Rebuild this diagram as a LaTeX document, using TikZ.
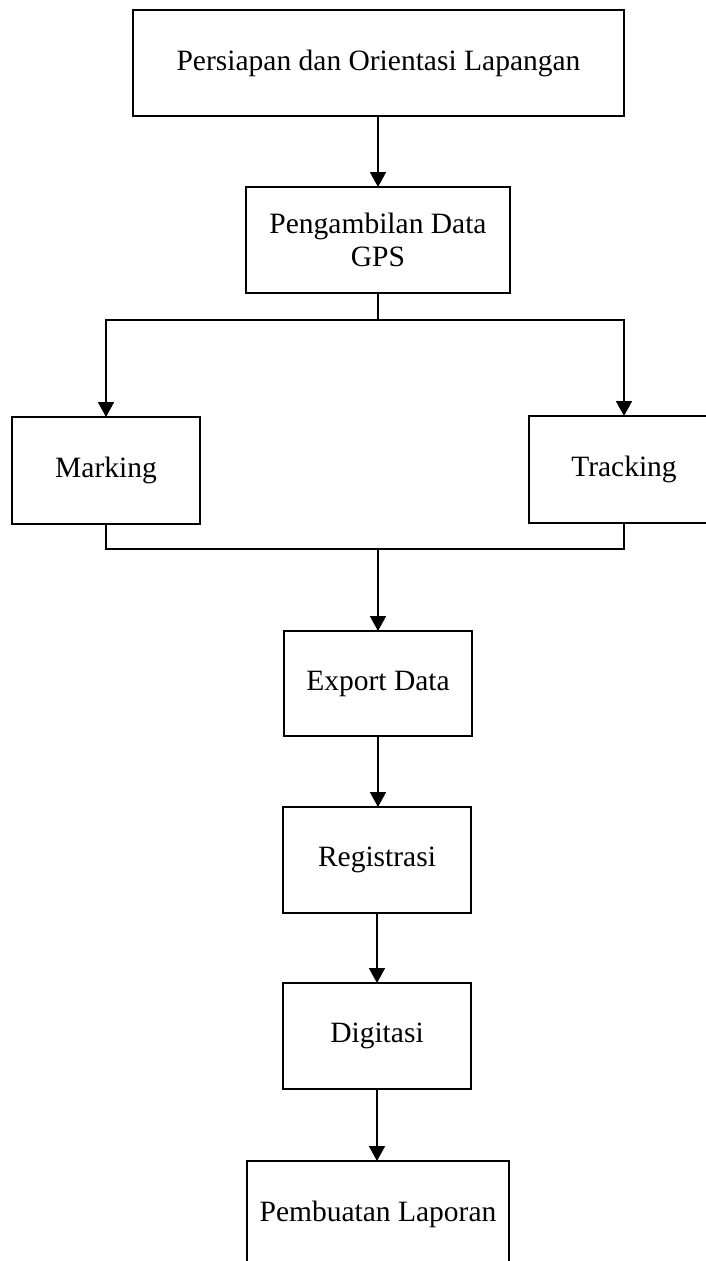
\documentclass[tikz,border=0pt]{standalone}
\usepackage{fontspec}
\setmainfont{Liberation Serif}
\usetikzlibrary{arrows.meta}
\begin{document}
\begin{tikzpicture}[x=1pt,y=-1pt,
  line width=1.8pt,
  box/.style={draw, rectangle, inner sep=0pt, outer sep=0pt,
    minimum height=106pt, align=center,
    font=\fontsize{29.5}{33}\selectfont},
  flow/.style={-{Triangle[length=15pt,width=16pt]}}]
\useasboundingbox (0,0) rectangle (706,1261);
\clip (0,0) rectangle (706,1261);

% process boxes
\node[box, minimum width=491pt] (prep) at (378.5,63) {Persiapan dan Orientasi Lapangan};
\node[box, minimum width=264pt] (gps) at (378,240) {Pengambilan Data\\GPS};
\node[box, minimum width=188pt, minimum height=107pt] (mark) at (106,470.5) {Marking};
\node[box, minimum width=190pt, minimum height=107pt] (track) at (624,469.5) {Tracking};
\node[box, minimum width=188pt, minimum height=105pt] (export) at (378,683.5) {Export Data};
\node[box, minimum width=188pt] (reg) at (377,860) {Registrasi};
\node[box, minimum width=188pt] (dig) at (377,1036) {Digitasi};
\node[box, minimum width=262pt] (report) at (378,1214) {Pembuatan Laporan};

% branching and merging points
\coordinate (split) at (378,320);
\coordinate (join) at (378,549);

% connectors
\draw[flow] (prep.south -| gps.north) -- (gps.north);
\draw (gps.south) -- (split);
\draw[flow] (split) -| (mark.north);
\draw[flow] (split) -| (track.north);
\draw (mark.south) |- (join);
\draw (track.south) |- (join);
\draw[flow] (join) -- (export.north);
\draw[flow] (export.south -| 378,0) -- (reg.north -| 378,0);
\draw[flow] (reg.south) -- (dig.north);
\draw[flow] (dig.south) -- (dig.south |- report.north);
\end{tikzpicture}
\end{document}
